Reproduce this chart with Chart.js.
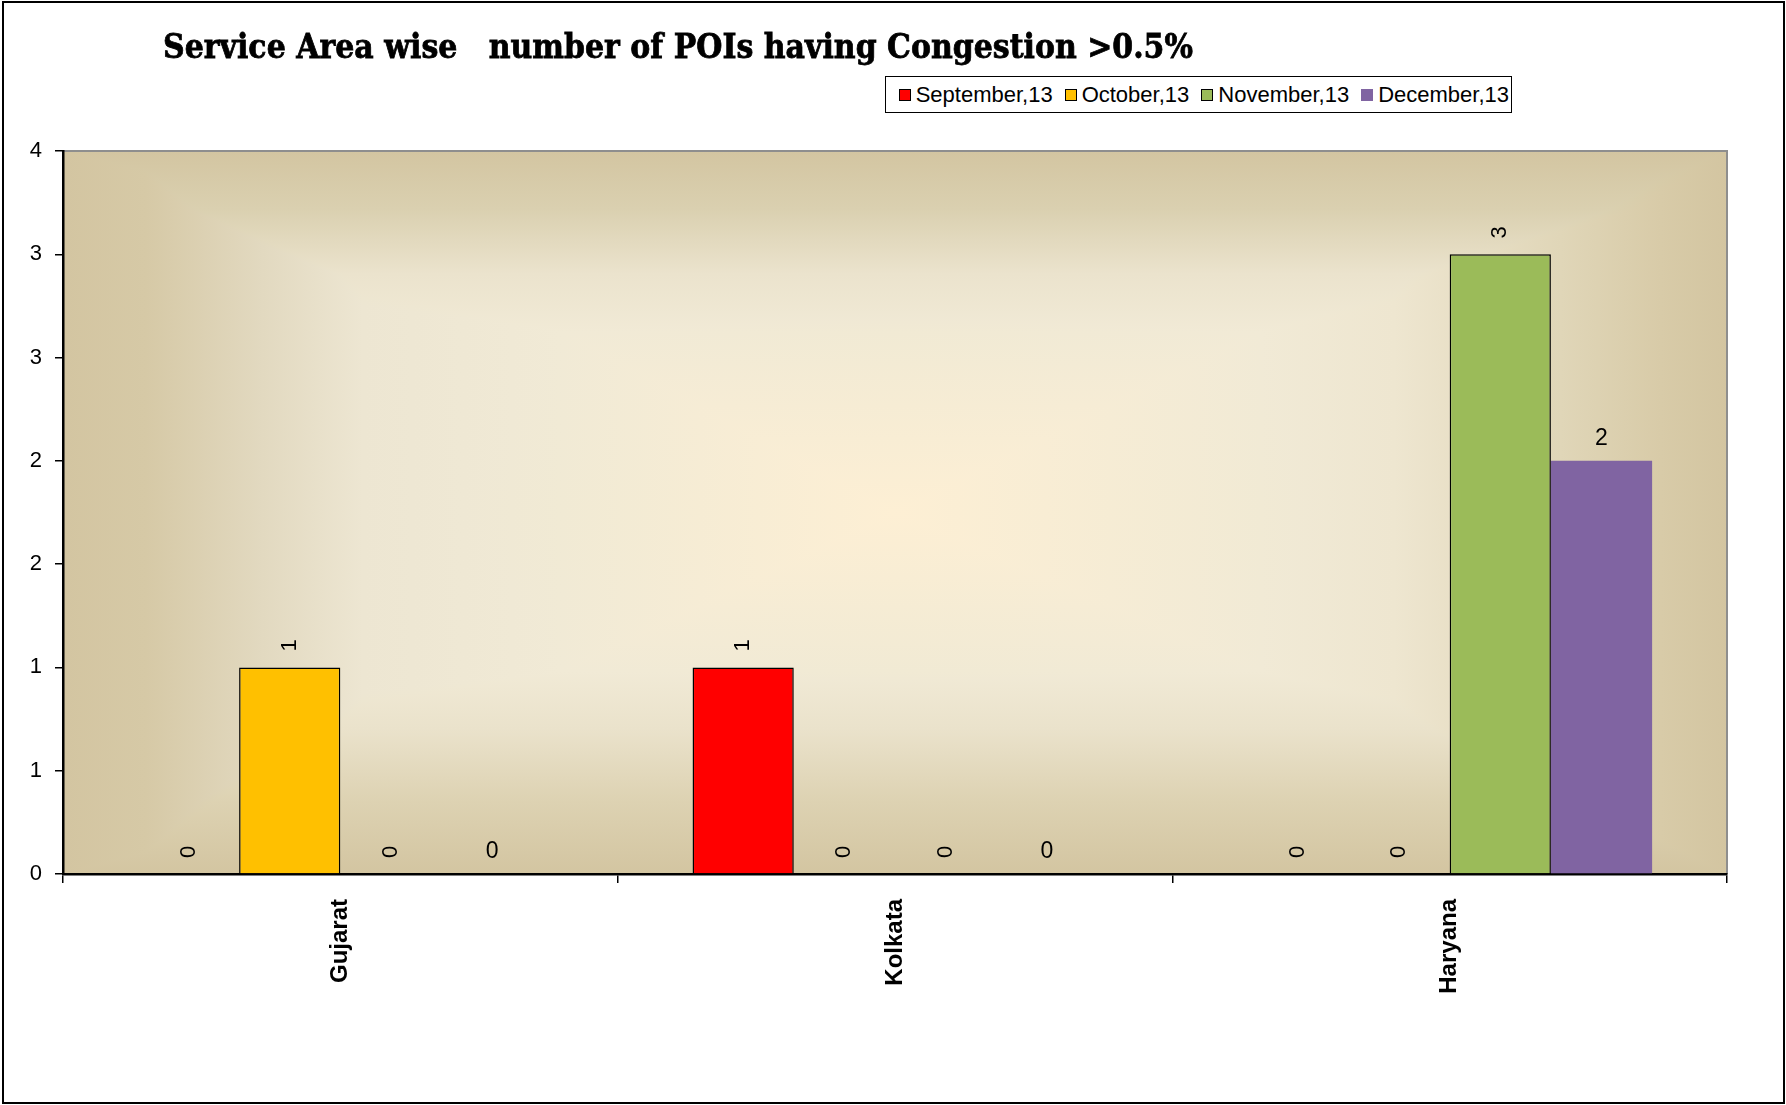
<!DOCTYPE html>
<html>
<head>
<meta charset="utf-8">
<script src="https://cdn.jsdelivr.net/npm/chart.js@4.4.0/dist/chart.umd.min.js"></script>
<style>
  html, body { margin: 0; padding: 0; background: #ffffff; }
  #wrap { position: relative; width: 1786px; height: 1105px; overflow: hidden; background: #fff; }
  #frame { position: absolute; left: 2px; top: 1px; width: 1779px; height: 1099px; border: 2px solid #000; box-sizing: content-box; pointer-events: none; }
  #title { position: absolute; left: 163px; top: 24px; white-space: pre; font-family: "DejaVu Serif", serif; font-weight: bold; font-size: 34px; line-height: 44px; color: #000; transform-origin: 0 0; -webkit-text-stroke: 0.8px #000; }
  #legend { position: absolute; right: 274px; top: 76px; height: 35px; border: 1.5px solid #000; background: #fff; display: flex; align-items: center; padding: 0 2px 0 13px; font-family: "Liberation Sans", Arial, sans-serif; font-size: 22px; color: #000; }
  .item { display: flex; align-items: center; margin-right: 12px; }
  .item:last-child { margin-right: 0; }
  .sw { width: 12px; height: 12px; margin-right: 5px; box-sizing: border-box; }
  canvas { position: absolute; left: 0; top: 0; }
</style>
</head>
<body>
<div id="wrap">
  <canvas id="c" width="1786" height="1105"></canvas>
  <div id="title"></div>
  <div id="legend"></div>
  <div id="frame"></div>
</div>
<script>
// ---- data ----
const titleText = "Service Area wise   number of POIs having Congestion >0.5%";
const categories = ["Gujarat", "Kolkata", "Haryana"];
const seriesNames = ["September,13", "October,13", "November,13", "December,13"];
const september = [0, 1, 0];
const october = [1, 0, 0];
const november = [0, 0, 3];
const december = [0, 0, 2];
const yTickValues = [0, 0.5, 1, 1.5, 2, 2.5, 3, 3.5];

// ---- styles ----
const seriesColors = ["#FF0000", "#FFC000", "#9BBB59", "#8064A2"];
const seriesBorder = [1.5, 1.5, 1.5, 0];
const labelRotated = [true, true, true, false];

const seriesValues = [september, october, november, december];

// title
const t = document.getElementById("title");
t.textContent = titleText;
const targetW = 1030;
const w = t.getBoundingClientRect().width;
t.style.transform = "scaleX(" + (targetW / w) + ")";

// legend
const lg = document.getElementById("legend");
seriesNames.forEach((n, i) => {
  const it = document.createElement("div");
  it.className = "item";
  const sw = document.createElement("div");
  sw.className = "sw";
  sw.style.background = seriesColors[i];
  if (seriesBorder[i] > 0) sw.style.border = "1.3px solid #000";
  const tx = document.createElement("span");
  tx.textContent = n;
  it.appendChild(sw); it.appendChild(tx);
  lg.appendChild(it);
});

const bgPlugin = {
  id: "bg",
  beforeDraw(chart) {
    const { ctx, chartArea: a } = chart;
    ctx.save();
    const gh = ctx.createLinearGradient(a.left, 0, a.right, 0);
    gh.addColorStop(0, "#D3C5A1");
    gh.addColorStop(0.05, "#D6C9A6");
    gh.addColorStop(0.12, "#E2D9C0");
    gh.addColorStop(0.18, "#EDE6D2");
    gh.addColorStop(0.30, "#F1EAD6");
    gh.addColorStop(0.5, "#FDEFD4");
    gh.addColorStop(0.72, "#F1EAD6");
    gh.addColorStop(0.80, "#EEE6D0");
    gh.addColorStop(0.90, "#E0D6B8");
    gh.addColorStop(0.96, "#D8CBA8");
    gh.addColorStop(1, "#D3C5A1");
    ctx.fillStyle = gh;
    ctx.fillRect(a.left, a.top, a.right - a.left, a.bottom - a.top);
    const gv = ctx.createLinearGradient(0, a.top, 0, a.bottom);
    gv.addColorStop(0, "#D3C5A1");
    gv.addColorStop(0.08, "#DAD0B0");
    gv.addColorStop(0.17, "#EBE3CD");
    gv.addColorStop(0.25, "#F1EAD6");
    gv.addColorStop(0.5, "#FDEFD4");
    gv.addColorStop(0.72, "#F1EAD6");
    gv.addColorStop(0.80, "#EAE2CB");
    gv.addColorStop(0.90, "#DDD2B2");
    gv.addColorStop(1, "#D3C5A1");
    ctx.globalCompositeOperation = "darken";
    ctx.fillStyle = gv;
    ctx.fillRect(a.left, a.top, a.right - a.left, a.bottom - a.top);
    ctx.globalCompositeOperation = "source-over";
    ctx.strokeStyle = "#8E8E8E";
    ctx.lineWidth = 2;
    ctx.beginPath();
    ctx.moveTo(a.left, a.top);
    ctx.lineTo(a.right, a.top);
    ctx.lineTo(a.right, a.bottom);
    ctx.stroke();
    ctx.restore();
  }
};

const labelPlugin = {
  id: "vlabels",
  afterDatasetsDraw(chart) {
    const ctx = chart.ctx;
    ctx.save();
    ctx.fillStyle = "#000";
    ctx.font = "22px 'Liberation Sans', Arial, sans-serif";
    ctx.textAlign = "center";
    ctx.textBaseline = "middle";
    chart.data.datasets.forEach((ds, di) => {
      const meta = chart.getDatasetMeta(di);
      meta.data.forEach((el, i) => {
        const v = ds.data[i];
        ctx.save();
        if (labelRotated[di]) {
          ctx.translate(el.x, el.y - 22);
          ctx.rotate(-Math.PI / 2);
          ctx.fillText(String(v), 0, 0);
        } else {
          ctx.font = "23px 'Liberation Sans', Arial, sans-serif";
          ctx.translate(el.x, el.y - 22);
          ctx.fillText(String(v), 0, 0);
        }
        ctx.restore();
      });
    });
    ctx.restore();
  }
};

new Chart(document.getElementById("c"), {
  type: "bar",
  data: {
    labels: categories,
    datasets: seriesValues.map((vals, i) => ({
      label: seriesNames[i],
      data: vals,
      backgroundColor: seriesColors[i],
      borderColor: "#000",
      borderWidth: seriesBorder[i],
      categoryPercentage: 0.73,
      barPercentage: 1.0
    }))
  },
  options: {
    responsive: false,
    animation: false,
    events: [],
    layout: { padding: { left: 0, right: 59, top: 151, bottom: 0 } },
    plugins: { legend: { display: false }, title: { display: false }, tooltip: { enabled: false } },
    scales: {
      x: {
        afterFit(s) { s.height = 231; },
        grid: { offset: true, drawOnChartArea: false, color: "#000", lineWidth: 1.5, tickLength: 9 },
        border: { display: true, color: "#000", width: 2.5 },
        ticks: {
          minRotation: 90, maxRotation: 90, padding: 16, color: "#000",
          font: { family: "'Liberation Sans', Arial, sans-serif", size: 24, weight: "bold" }
        }
      },
      y: {
        min: 0, max: 3.5,
        afterFit(s) { s.width = 63; },
        afterBuildTicks(s) { s.ticks = yTickValues.map(v => ({ value: v })); },
        grid: { drawOnChartArea: false, color: "#000", lineWidth: 1.5, tickLength: 8 },
        border: { display: true, color: "#000", width: 2.5 },
        ticks: {
          padding: 13, color: "#000",
          font: { family: "'Liberation Sans', Arial, sans-serif", size: 22 },
          callback: (v) => String(Math.round(v))
        }
      }
    }
  },
  plugins: [bgPlugin, labelPlugin]
});
</script>
</body>
</html>
